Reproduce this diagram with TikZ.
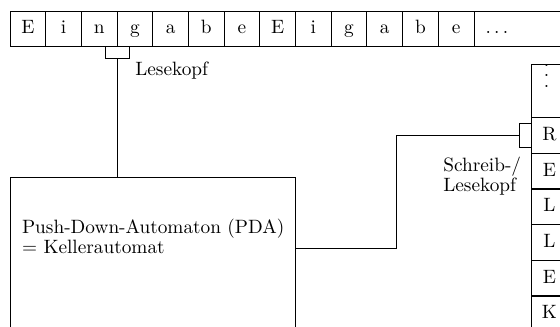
\documentclass[tikz,border=0pt]{standalone}
\usetikzlibrary{positioning,calc}
\begin{document}
\begin{tikzpicture}[x=1cm,y=1cm,
    cell/.style={draw,minimum width=0.65cm,minimum height=0.64cm,
                 inner sep=0pt,text height=1.5ex,text depth=0.25ex},
    tight/.style={align=left,font=\fontsize{10pt}{8.5pt}\selectfont}]
  \clip (0,0) rectangle (10.20,5.94);

  % Input tape along the top, open to the right.
  \foreach \ch [count=\i] in {E,i,n,g,a,b,e,E,i,g,a,b,e}
    \node[cell] (t\i) at ({0.182+0.65*(\i-0.5)},5.42) {\ch};
  \node[cell,anchor=west,minimum width=2.2cm,text width=1.8cm,
        inner xsep=0.2cm,align=left] (tmore) at (t13.east) {$\ldots$};

  % Read head below the tape.
  \coordinate (rhead) at ($(t3.south east)+(0,-0.225)$);
  \draw ($(rhead)+(-0.22,0.225)$) -- ++(0,-0.225) -- ++(0.44,0)
    -- ++(0,0.225);
  \node[anchor=west] (rlabel) at (2.34,4.66) {Lesekopf};

  % The automaton itself; its lower part runs off the page.
  \node[draw,anchor=north west,minimum width=5.185cm,
        minimum height=4cm] (pda) at (0.182,2.719) {};
  \node[tight,anchor=west] (pdatext) at (0.278,1.64)
    {Push-Down-Automaton (PDA)\\= Kellerautomat};
  \draw (rhead) -- (rhead |- pda.north);

  % Stack on the right, top of stack is R.
  \foreach \ch [count=\i] in {R,E,L,L,E,K}
    \node[cell] (s\i) at (10.007,{3.475-0.65*(\i-1)}) {\ch};
  \node[cell,anchor=south,minimum height=0.966cm] (stop) at (s1.north) {};
  \node[inner sep=0pt] (sdots) at (9.955,4.557)
    {\vbox{\baselineskip=5.6pt\lineskiplimit=0pt\hbox{.}\hbox{.}\hbox{.}}};

  % Write/read head at the stack top and its line to the automaton.
  \coordinate (whead) at ($(s1.west)+(-0.213,0)$);
  \draw ($(s1.west)+(0,0.214)$) -- ++(-0.213,0) -- ++(0,-0.428)
    -- ++(0.213,0);
  \coordinate (pout) at ($(pda.north east)+(0,-1.304)$);
  \draw (pout) -- ++(1.831,0) |- (whead);
  \node[tight,anchor=west] (wlabel) at (7.95,2.73) {Schreib-/\\Lesekopf};
\end{tikzpicture}
\end{document}
